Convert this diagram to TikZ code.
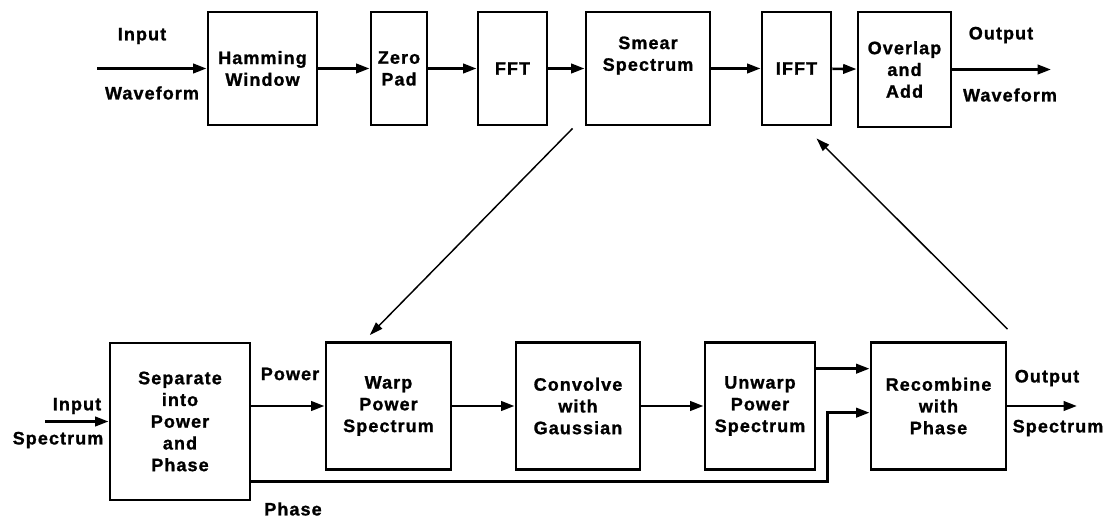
\documentclass[tikz,border=0pt]{standalone}
\usepackage{fontspec}
\setmainfont{Liberation Sans}[LetterSpace=6, BoldFeatures={FakeBold=1.2}]
\usetikzlibrary{arrows.meta}

\begin{document}
\begin{tikzpicture}[x = 0.75pt, y = -0.75pt,
        every node/.style = {font = \fontsize{13.5}{16.3}\selectfont\bfseries, align = center, inner sep = 1pt},
        box/.style = {draw, line width = 2.2pt, minimum height = 84.75pt},
        lowbox/.style = {box, minimum height = 95.25pt},
        arr/.style = {line width = 2pt, -{Triangle[length = 10pt, width = 7pt]}},
        diag/.style = {line width = 1.1pt, -{Triangle[length = 10pt, width = 6.5pt]}}]
    \useasboundingbox (0,0) rectangle (1110,520);
    % upper chain
    \node[box, minimum width = 81.75pt] (ham) at (262.5,68.5) {Hamming\\Window};
    \node[box, minimum width = 42pt] (zero) at (399,68.5) {Zero\\Pad};
    \node[box, minimum width = 51.75pt] (fft) at (512.5,68.5) {FFT};
    \node[box, minimum width = 93pt] (smear) at (648,68.5) {Smear\\Spectrum\\[6pt]};
    \node[box, minimum width = 51.75pt] (ifft) at (796.5,68.5) {IFFT};
    \node[box, minimum width = 69.75pt, minimum height = 86.25pt] (ola) at (904.5,69.5) {Overlap\\and\\Add};
    \coordinate (inW) at (97,68.5);
    \coordinate (outW) at (1051,69.5);
    \node (inWa) at (142,36) {Input};
    \node (inWb) at (152,93) {Waveform};
    \node (outWa) at (1001,35) {Output};
    \node (outWb) at (1010,95) {Waveform};
    \draw[arr] (inW) -- (ham);
    \draw[arr] (ham) -- (zero);
    \draw[arr] (zero) -- (fft);
    \draw[arr] (fft) -- (smear);
    \draw[arr] (smear) -- (ifft);
    \draw[arr] (ifft) -- (ola);
    \draw[arr] (ola) -- (outW);
    % lower chain
    \node[box, minimum width = 105pt, minimum height = 117.75pt] (sep) at (180,421.5) {Separate\\into\\Power\\and\\Phase};
    \node[lowbox, minimum width = 93.75pt] (warp) at (388.5,406) {Warp\\Power\\Spectrum};
    \node[lowbox, minimum width = 93pt] (conv) at (578,406) {Convolve\\with\\Gaussian};
    \node[lowbox, minimum width = 82.5pt] (unwarp) at (760,406) {Unwarp\\Power\\Spectrum};
    \node[lowbox, minimum width = 101.25pt] (recomb) at (938.5,406) {Recombine\\with\\Phase};
    \coordinate (inS) at (45,421.5);
    \coordinate (outS) at (1077,406);
    \node (inSa) at (77,406) {Input};
    \node (inSb) at (58,440) {Spectrum};
    \node (pow) at (290,374) {Power};
    \node (pha) at (293,509) {Phase};
    \node (outSa) at (1047,378) {Output};
    \node (outSb) at (1058,428) {Spectrum};
    \draw[arr] (inS) -- (sep);
    \draw[arr] (sep.east |- warp.west) -- (warp.west);
    \draw[arr] (warp) -- (conv);
    \draw[arr] (conv) -- (unwarp);
    \draw[arr] ([yshift = 28pt]unwarp.east) -- ([yshift = 28pt]recomb.west);
    \draw[arr] ([yshift = -45pt]sep.east) -| ([xshift = -31.5pt, yshift = -5pt]recomb.west) -- ([yshift = -5pt]recomb.west);
    \draw[arr] (recomb) -- (outS);
    % between the chains
    \draw[diag] ([xshift = -9pt, yshift = -1.5pt]smear.south west) -- ([xshift = -14pt, yshift = 4.5pt]warp.north);
    \draw[diag] ([yshift = 9pt]recomb.north east) -- ([xshift = 15pt, yshift = -9pt]ifft.south);
\end{tikzpicture}
\end{document}
